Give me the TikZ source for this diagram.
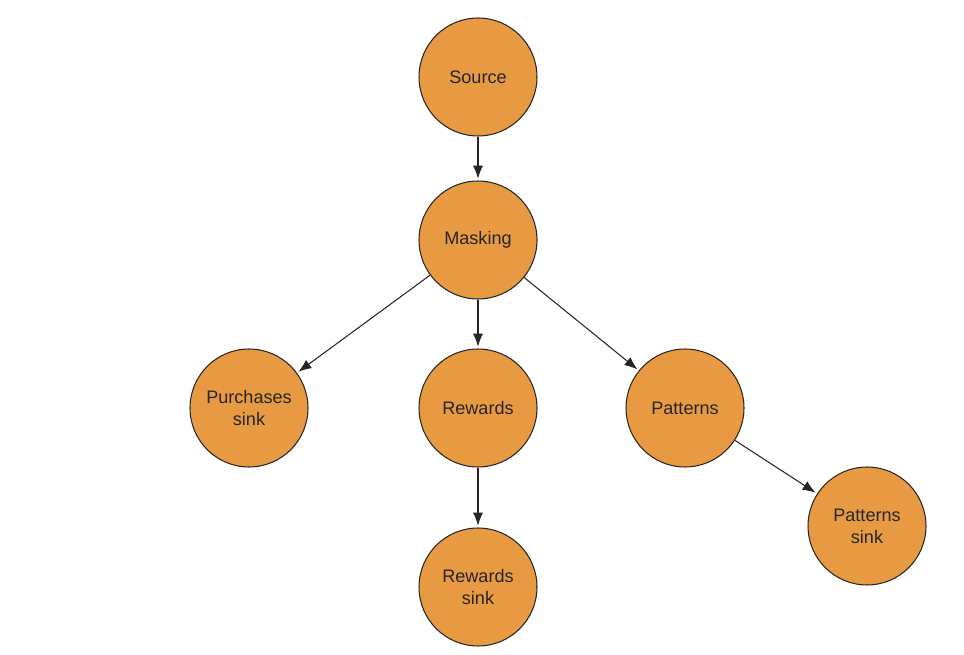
\documentclass[tikz,border=0pt]{standalone}
\usepackage{fontspec}
\setmainfont{Liberation Sans}
\usepackage{xcolor}
\usetikzlibrary{arrows.meta}
\definecolor{stageorange}{HTML}{E89A42}
\tikzset{
  stage/.style={circle, draw=black!85, line width=0.6pt, fill=stageorange,
    minimum size=2.36cm, inner sep=0pt, align=center, text=black!85,
    font=\fontsize{10.3}{12.5}\selectfont},
  flow/.style={-{Latex[length=2.6mm,width=2mm]}, draw=black!85, line width=0.6pt, shorten >=1pt}
}
\begin{document}
\begin{tikzpicture}[x=0.02cm, y=-0.02cm]
        \useasboundingbox (0,0) rectangle (964,655);
        \node [stage] (Src) at (478,77) {Source};
        \node [stage] (Mask) at (478,240) {Masking};
        \node [stage] (Purch) at (249,408) {Purchases\\sink};
        \node [stage] (Rew) at (478,408) {Rewards};
        \node [stage] (Pat) at (685,408) {Patterns};
        \node [stage] (RewSink) at (478,587) {Rewards\\sink};
        \node [stage] (PatSink) at (867,526) {Patterns\\sink};
        \draw [flow] (Src) -- (Mask);
        \draw [flow] (Mask) -- (Purch);
        \draw [flow] (Mask) -- (Rew);
        \draw [flow] (Mask) -- (Pat);
        \draw [flow] (Rew) -- (RewSink);
        \draw [flow] (Pat) -- (PatSink);
\end{tikzpicture}
\end{document}
